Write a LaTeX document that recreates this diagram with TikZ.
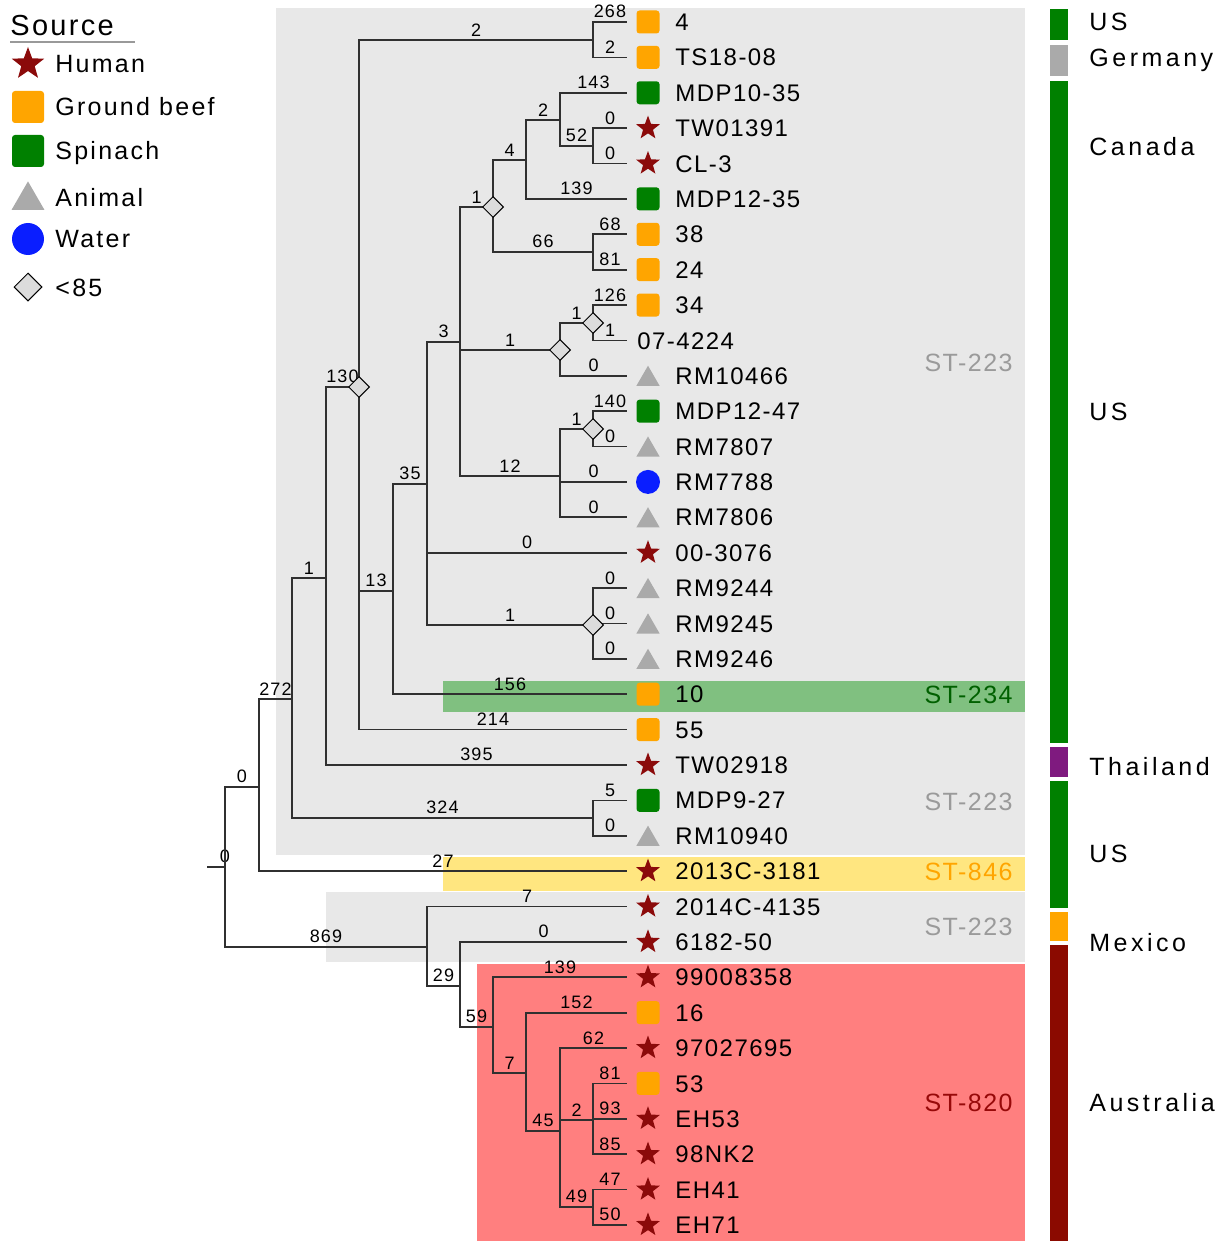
\documentclass[tikz,border=0pt]{standalone}
\usepackage{fontspec}
\setmainfont{Liberation Sans}[LetterSpace=6]
\usetikzlibrary{shapes.geometric}
\definecolor{Human}{HTML}{8B0A0A}
\definecolor{Beef}{HTML}{FFA500}
\definecolor{Spinach}{HTML}{008000}
\definecolor{Animal}{HTML}{AAAAAA}
\definecolor{Water}{HTML}{0A1EFF}
\definecolor{Branch}{HTML}{303030}
\definecolor{Shade}{HTML}{E8E8E8}
\definecolor{Rhomb}{HTML}{DCDCDC}
\definecolor{Band}{HTML}{80C080}
\definecolor{Sun}{HTML}{FFE680}
\definecolor{Rose}{HTML}{FF7F7F}
\definecolor{Plum}{HTML}{7F1A7F}
\definecolor{Maroon}{HTML}{8B0A00}
\definecolor{Tag}{HTML}{9A9A9A}
\tikzset{
  human/.style={star,star points=5,star point ratio=2.4,fill=Human,minimum size=12.5pt,inner sep=0pt},
  beef/.style={rectangle,rounded corners=1.5pt,fill=Beef,minimum size=11.5pt,inner sep=0pt},
  spinach/.style={beef,fill=Spinach},
  animal/.style={regular polygon,regular polygon sides=3,fill=Animal,minimum size=13.5pt,inner sep=0pt,yshift=-1.7pt},
  water/.style={circle,fill=Water,minimum size=12pt,inner sep=0pt},
  diam/.style={diamond,draw=black,fill=Rhomb,line width=.5pt,minimum size=10.5pt,inner sep=0pt},
  leaf/.style={anchor=west,font=\fontsize{12}{14}\selectfont,text height=8.6pt,text depth=0pt,inner sep=0pt},
  country/.style={leaf,font=\fontsize{12.5}{15}\selectfont\addfontfeature{LetterSpace=14},text height=9pt},
  keytext/.style={leaf,font=\fontsize{12.5}{15}\selectfont\addfontfeature{LetterSpace=9},text height=9pt},
  sttag/.style={anchor=east,font=\fontsize{12.5}{15}\selectfont,text height=9pt,text depth=0pt,inner sep=0pt},
  brline/.style={draw=Branch,line width=.85pt},
  brlabel/.style={pos=.75,above,inner sep=1.5pt,font=\fontsize{9}{10}\selectfont}
}

\begin{document}
\begin{tikzpicture}[x=.5pt,y=-.5pt]
  \useasboundingbox (0,0) rectangle (1227,1241);
  % sequence type regions
  \fill[Shade] (276,8) rectangle (1025,855);
  \fill[Band] (443,681) rectangle (1025,712);
  \fill[Sun] (443,857) rectangle (1025,891);
  \fill[Shade] (326,892) rectangle (1025,962);
  \fill[Rose] (477,964) rectangle (1025,1241);
  \node[sttag,text=Tag] (st1) at (1013,362) {ST-223};
  \node[sttag,text=Spinach!75!black] (st2) at (1013,694) {ST-234};
  \node[sttag,text=Tag] (st3) at (1013,801) {ST-223};
  \node[sttag,text=Beef] (st4) at (1013,871) {ST-846};
  \node[sttag,text=Tag] (st5) at (1013,926) {ST-223};
  \node[sttag,text=Human!90!red] (st6) at (1013,1102) {ST-820};

  % country bar
  \foreach \c/\a/\b in {Spinach/9/40,Animal/45/76,Spinach/81/743,Plum/747/777,
      Spinach/781/908,Beef/912/941,Maroon/945/1241}
    \fill[\c] (1050,\a) rectangle (1068,\b);
  \foreach \txt/\y [count=\k] in {US/22,Germany/58,Canada/147,US/411,
      Thailand/766,US/853,Mexico/942,Australia/1102}
    \node[country] (cty\k) at (1089,\y) {\txt};

  % legend
  \node[anchor=west,inner sep=0pt,font=\fontsize{14.5}{17}\selectfont\addfontfeature{LetterSpace=8}] (src) at (10,26) {Source};
  \draw[gray!80,line width=1pt] (10,42) -- (135,42);
  \foreach \src/\sz/\y/\txt [count=\k] in {human/17pt/64/Human,beef/16pt/107/Ground beef,
      spinach/16pt/151/Spinach,animal/19pt/197/Animal,water/16pt/239/Water,diam/14pt/287/{<85}}{
    \node[\src,minimum size=\sz] (key\k) at (28,\y) {};
    \node[keytext] (keyt\k) at (55,\y) {\txt};
  }

  % leaves
  \foreach \nm/\r/\src/\txt in {l4/0/beef/4,ts/1/beef/TS18-08,m1035/2/spinach/MDP10-35,
      tw91/3/human/TW01391,cl3/4/human/CL-3,m1235/5/spinach/MDP12-35,b38/6/beef/38,
      b24/7/beef/24,b34/8/beef/34,rm10466/10/animal/RM10466,m1247/11/spinach/MDP12-47,
      rm7807/12/animal/RM7807,rm7788/13/water/RM7788,rm7806/14/animal/RM7806,
      h3076/15/human/00-3076,rm9244/16/animal/RM9244,rm9245/17/animal/RM9245,
      rm9246/18/animal/RM9246,b10/19/beef/10,b55/20/beef/55,tw2918/21/human/TW02918,
      m927/22/spinach/MDP9-27,rm10940/23/animal/RM10940,h3181/24/human/2013C-3181,
      h4135/25/human/2014C-4135,h6182/26/human/6182-50,h9900/27/human/99008358,
      b16/28/beef/16,h9702/29/human/97027695,b53/30/beef/53,eh53/31/human/EH53,
      nk2/32/human/98NK2,eh41/33/human/EH41,eh71/34/human/EH71}{
    \coordinate (\nm) at (627,{22+35.38*\r});
    \node[\src] (\nm-s) at (648,{22+35.38*\r}) {};
    \node[leaf] (\nm-t) at (675,{22+35.38*\r}) {\txt};
  }
  \coordinate (r0724) at (627,{22+35.38*9});
  \node[leaf] (r0724-t) at (637,{22+35.38*9}) {07-4224};

  % inner nodes
  \coordinate (stub) at (207,867);
  \coordinate (root) at (225,867);
  \coordinate (n0) at (259,787);
  \coordinate (n272) at (292,699);
  \coordinate (n1) at (326,578);
  \coordinate (d130) at (359,387);
  \coordinate (nTS) at (593,40);
  \coordinate (n13) at (393,591);
  \coordinate (n35) at (427,484);
  \coordinate (n3) at (460,342);
  \coordinate (d1) at (493,207);
  \coordinate (n4) at (526,160);
  \coordinate (nMDP) at (560,120);
  \coordinate (nTW) at (593,146);
  \coordinate (n38) at (593,252);
  \coordinate (nRM10) at (560,350);
  \coordinate (n34) at (593,323);
  \coordinate (n12) at (560,476);
  \coordinate (nRM78) at (593,429);
  \coordinate (nRM92) at (593,625);
  \coordinate (nMDP9) at (593,818);
  \coordinate (n869) at (427,947);
  \coordinate (n29) at (460,986);
  \coordinate (n59) at (493,1027);
  \coordinate (n7) at (526,1073);
  \coordinate (n45) at (560,1131);
  \coordinate (n2) at (593,1120);
  \coordinate (n49) at (593,1207);

  \draw[brline] (stub) -- node[brlabel,pos=1]{0} (root);
  \foreach \p/\c/\l in {root/n0/0,root/n869/869,n0/n272/272,n0/h3181/27,
      n272/n1/1,n272/nMDP9/324,nMDP9/m927/5,nMDP9/rm10940/0,
      n1/d130/130,n1/tw2918/395,d130/nTS/2,d130/n13/13,d130/b55/214,
      nTS/l4/268,nTS/ts/2,n13/n35/35,n13/b10/156,
      n35/n3/3,n35/h3076/0,n35/nRM92/1,nRM92/rm9244/0,nRM92/rm9245/0,nRM92/rm9246/0,
      n3/d1/1,n3/nRM10/1,n3/n12/12,
      d1/n4/4,d1/n38/66,n38/b38/68,n38/b24/81,
      n4/nMDP/2,n4/m1235/139,nMDP/m1035/143,nMDP/nTW/52,nTW/tw91/0,nTW/cl3/0,
      nRM10/n34/1,nRM10/rm10466/0,n34/b34/126,n34/r0724/1,
      n12/nRM78/1,n12/rm7788/0,n12/rm7806/0,nRM78/m1247/140,nRM78/rm7807/0,
      n869/h4135/7,n869/n29/29,n29/h6182/0,n29/n59/59,n59/h9900/139,n59/n7/7,
      n7/b16/152,n7/n45/45,n45/h9702/62,n45/n2/2,n45/n49/49,
      n2/b53/81,n2/eh53/93,n2/nk2/85,n49/eh41/47,n49/eh71/50}
    \draw[brline] (\p) |- node[brlabel]{\l} (\c);

  % low support
  \foreach \d in {d130,d1,nRM10,n34,nRM78,nRM92}
    \node[diam] (\d-m) at (\d) {};
\end{tikzpicture}
\end{document}
